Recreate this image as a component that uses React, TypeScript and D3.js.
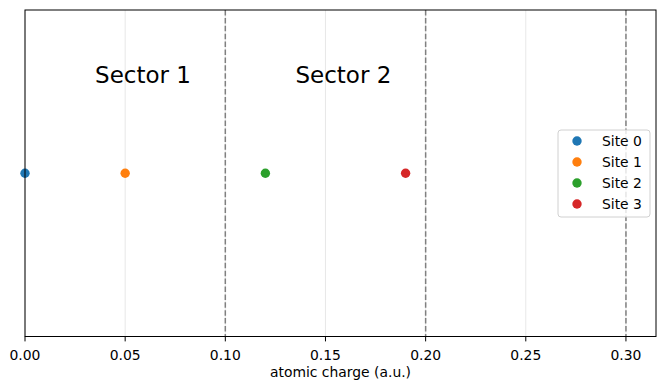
import * as d3 from 'd3';

const sites = ['Site 0', 'Site 1', 'Site 2', 'Site 3'];
const charges = [0, 0.05, 0.12, 0.19];
const colors = ['#1f77b4', '#ff7f0e', '#2ca02c', '#d62728'];
const boundaries = [0.1, 0.2, 0.3];
const sectorLabels = ['Sector 1', 'Sector 2'];
const sectorStarts = [0.035, 0.135];
const xTicks = [0, 0.05, 0.1, 0.15, 0.2, 0.25, 0.3];

export default function App() {
  const width = 664;
  const height = 390;
  const margin = { top: 10, right: 8, bottom: 53.5, left: 25 };
  const font = 'DejaVu Sans, sans-serif';

  const x = d3
    .scaleLinear()
    .domain([0, 0.315])
    .range([margin.left, width - margin.right]);
  const y = d3
    .scaleLinear()
    .domain([-1, 1])
    .range([height - margin.bottom, margin.top]);

  const fmt = d3.format('.2f');
  const legendX = 558;
  const legendY = 130;

  return (
    <svg
      width={width}
      height={height}
      style={{ position: 'absolute', left: 0, top: 0, background: '#fff' }}
    >
      {/* grid */}
      {xTicks.map((t) => (
        <line
          key={'g' + t}
          x1={x(t)}
          x2={x(t)}
          y1={y(1)}
          y2={y(-1)}
          stroke="#b0b0b0"
          strokeOpacity={0.3}
          strokeWidth={1}
        />
      ))}

      {/* sector boundaries */}
      {boundaries.map((b) => (
        <line
          key={'b' + b}
          x1={x(b)}
          x2={x(b)}
          y1={y(1)}
          y2={y(-1)}
          stroke="#808080"
          strokeWidth={1.5}
          strokeDasharray="5.5,2.4"
        />
      ))}

      {sectorLabels.map((s, i) => (
        <text
          key={s}
          x={x(sectorStarts[i])}
          y={y(0.6)}
          dominantBaseline="central"
          fontFamily={font}
          fontSize={23}
          fill="#000"
        >
          {s}
        </text>
      ))}

      {/* points */}
      {charges.map((c, i) => (
        <circle key={sites[i]} cx={x(c)} cy={y(0)} r={4.7} fill={colors[i]} />
      ))}

      {/* frame */}
      <rect
        x={x(0)}
        y={y(1)}
        width={x(0.315) - x(0)}
        height={y(-1) - y(1)}
        fill="none"
        stroke="#000"
        strokeWidth={1}
      />

      {/* x axis */}
      {xTicks.map((t) => (
        <g key={'t' + t}>
          <line x1={x(t)} x2={x(t)} y1={y(-1)} y2={y(-1) + 4.9} stroke="#000" />
          <text
            x={x(t)}
            y={y(-1) + 18}
            textAnchor="middle"
            dominantBaseline="central"
            fontFamily={font}
            fontSize={13.9}
            fill="#000"
          >
            {fmt(t)}
          </text>
        </g>
      ))}
      <text
        x={(x(0) + x(0.315)) / 2}
        y={372}
        textAnchor="middle"
        dominantBaseline="central"
        fontFamily={font}
        fontSize={13.9}
        fill="#000"
      >
        atomic charge (a.u.)
      </text>

      {/* legend */}
      <rect
        x={legendX}
        y={legendY}
        width={92}
        height={87}
        rx={3}
        fill="#fff"
        fillOpacity={0.8}
        stroke="#d0d0d0"
      />
      {sites.map((s, i) => (
        <g key={'l' + s}>
          <circle cx={legendX + 19} cy={legendY + 11 + i * 21} r={4.7} fill={colors[i]} />
          <text
            x={legendX + 44}
            y={legendY + 11 + i * 21}
            dominantBaseline="central"
            fontFamily={font}
            fontSize={13.9}
            fill="#000"
          >
            {s}
          </text>
        </g>
      ))}
    </svg>
  );
}
